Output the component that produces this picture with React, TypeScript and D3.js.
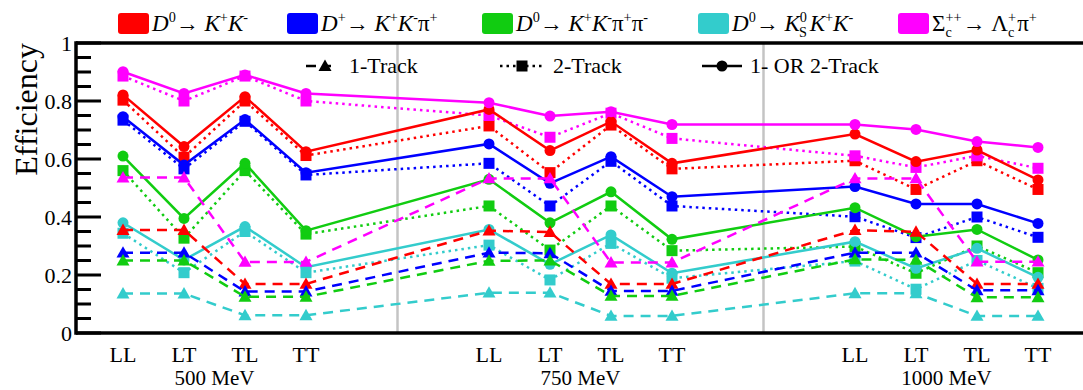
import React from "react";
import * as d3 from "d3";

const categories = ["LL", "LT", "TL", "TT"];
const energies = ["500 MeV", "750 MeV", "1000 MeV"];
const yTicks = [0, 0.2, 0.4, 0.6, 0.8, 1];

// values per point: 500 MeV (LL,LT,TL,TT), 750 MeV (...), 1000 MeV (...)
const redSolid = [0.821, 0.643, 0.815, 0.625, 0.771, 0.629, 0.729, 0.585, 0.686, 0.591, 0.631, 0.528];
const redDotted = [0.803, 0.606, 0.8, 0.612, 0.714, 0.553, 0.717, 0.566, 0.594, 0.495, 0.594, 0.495];
const redDashed = [0.355, 0.355, 0.169, 0.169, 0.353, 0.348, 0.169, 0.169, 0.355, 0.349, 0.169, 0.169];

const blueSolid = [0.746, 0.579, 0.736, 0.553, 0.652, 0.516, 0.608, 0.47, 0.505, 0.445, 0.445, 0.378];
const blueDotted = [0.734, 0.566, 0.73, 0.545, 0.585, 0.438, 0.592, 0.438, 0.401, 0.329, 0.4, 0.33];
const blueDashed = [0.277, 0.277, 0.143, 0.143, 0.277, 0.275, 0.145, 0.145, 0.277, 0.277, 0.147, 0.147];

const greenSolid = [0.61, 0.395, 0.585, 0.353, 0.53, 0.38, 0.487, 0.323, 0.432, 0.332, 0.357, 0.252];
const greenDotted = [0.56, 0.327, 0.56, 0.341, 0.438, 0.286, 0.438, 0.284, 0.298, 0.206, 0.3, 0.208];
const greenDashed = [0.25, 0.25, 0.125, 0.125, 0.249, 0.25, 0.128, 0.128, 0.254, 0.252, 0.123, 0.123];

const tealSolid = [0.38, 0.252, 0.367, 0.227, 0.357, 0.237, 0.338, 0.206, 0.315, 0.223, 0.292, 0.192];
const tealDotted = [0.344, 0.208, 0.35, 0.208, 0.303, 0.183, 0.309, 0.189, 0.248, 0.151, 0.25, 0.154];
const tealDashed = [0.136, 0.136, 0.061, 0.061, 0.139, 0.139, 0.059, 0.059, 0.137, 0.137, 0.059, 0.059];

const magentaSolid = [0.901, 0.826, 0.89, 0.826, 0.794, 0.748, 0.763, 0.719, 0.719, 0.702, 0.66, 0.64];
const magentaDotted = [0.886, 0.8, 0.886, 0.8, 0.75, 0.675, 0.758, 0.671, 0.611, 0.571, 0.611, 0.568];
const magentaDashed = [0.536, 0.536, 0.245, 0.245, 0.533, 0.533, 0.243, 0.243, 0.533, 0.533, 0.246, 0.246];

const RED = "#ff0000";
const BLUE = "#0000ff";
const GREEN = "#11cc11";
const TEAL = "#33cccc";
const MAGENTA = "#ff00ff";

type Kind = "solid" | "dotted" | "dashed";
const seriesList: { color: string; kind: Kind; values: number[] }[] = [
  { color: RED, kind: "dotted", values: redDotted },
  { color: BLUE, kind: "dotted", values: blueDotted },
  { color: GREEN, kind: "dotted", values: greenDotted },
  { color: TEAL, kind: "dotted", values: tealDotted },
  { color: MAGENTA, kind: "dotted", values: magentaDotted },
  { color: RED, kind: "solid", values: redSolid },
  { color: BLUE, kind: "solid", values: blueSolid },
  { color: GREEN, kind: "solid", values: greenSolid },
  { color: TEAL, kind: "solid", values: tealSolid },
  { color: MAGENTA, kind: "solid", values: magentaSolid },
  { color: RED, kind: "dashed", values: redDashed },
  { color: BLUE, kind: "dashed", values: blueDashed },
  { color: GREEN, kind: "dashed", values: greenDashed },
  { color: TEAL, kind: "dashed", values: tealDashed },
  { color: MAGENTA, kind: "dashed", values: magentaDashed },
];

const W = 1083;
const H = 390;
const FONT = "Liberation Serif, DejaVu Serif, serif";
const LEFT = 76;
const TOP = 43;
const BOTTOM = 333;

const slot = (i: number) => Math.floor(i / 4) * 6 + (i % 4);
const x = d3.scaleLinear().domain([0, 15]).range([123, 1038]);
const y = d3.scaleLinear().domain([0, 1]).range([BOTTOM, TOP]);

const dashFor = (k: Kind) => (k === "dashed" ? "10,7" : k === "dotted" ? "2.5,4" : undefined);

function Marker({ kind, cx, cy, color }: { kind: Kind; cx: number; cy: number; color: string }) {
  if (kind === "solid") return <circle cx={cx} cy={cy} r={5.5} fill={color} />;
  if (kind === "dotted") return <rect x={cx - 5.5} y={cy - 5.5} width={11} height={11} fill={color} />;
  const s = 6.5;
  return <path d={`M${cx},${cy - s}L${cx + s},${cy + s * 0.75}L${cx - s},${cy + s * 0.75}Z`} fill={color} />;
}

type Seg = [string, string, string?];
// kinds: i italic, r roman, sup, sub, ss (sup + sub stacked)
function Rich({ segs, x0, y0, fs }: { segs: Seg[]; x0: number; y0: number; fs: number }) {
  const out: React.ReactNode[] = [];
  let shift = 0;
  const small = fs * 0.62;
  segs.forEach((s, k) => {
    const [t, kind, t2] = s;
    if (kind === "i" || kind === "r") {
      out.push(
        <tspan key={k} dy={-shift} fontStyle={kind === "i" ? "italic" : "normal"} fontSize={fs}>
          {t}
        </tspan>
      );
      shift = 0;
    } else if (kind === "sup") {
      const target = -fs * 0.38;
      out.push(
        <tspan key={k} dy={target - shift} fontSize={small}>
          {t}
        </tspan>
      );
      shift = target;
    } else if (kind === "ss") {
      const up = -fs * 0.38;
      const dn = fs * 0.24;
      out.push(
        <tspan key={k + "a"} dy={up - shift} fontSize={small}>
          {t}
        </tspan>
      );
      const wSup = t.length * small * 0.56;
      const wSub = (t2 || "").length * small * 0.45;
      out.push(
        <tspan key={k + "b"} dx={-wSup} dy={dn - up} fontSize={small}>
          {t2}
        </tspan>
      );
      out.push(
        <tspan key={k + "c"} dx={Math.max(0, wSup - wSub)} fontSize={small}>
          {"\u200a"}
        </tspan>
      );
      shift = dn;
    }
  });
  return (
    <text x={x0} y={y0} style={{ fontFamily: FONT }} fontSize={fs} fill="#000">
      {out}
    </text>
  );
}

const legendEntries: { color: string; x: number; segs: Seg[] }[] = [
  { color: RED, x: 118, segs: [["D", "i"], ["0", "sup"], ["\u2192 ", "r"], ["K", "i"], ["+", "sup"], ["K", "i"], ["-", "sup"]] },
  { color: BLUE, x: 287, segs: [["D", "i"], ["+", "sup"], ["\u2192 ", "r"], ["K", "i"], ["+", "sup"], ["K", "i"], ["-", "sup"], ["\u03c0", "r"], ["+", "sup"]] },
  { color: GREEN, x: 482, segs: [["D", "i"], ["0", "sup"], ["\u2192 ", "r"], ["K", "i"], ["+", "sup"], ["K", "i"], ["-", "sup"], ["\u03c0", "r"], ["+", "sup"], ["\u03c0", "r"], ["-", "sup"]] },
  { color: TEAL, x: 698, segs: [["D", "i"], ["0", "sup"], ["\u2192 ", "r"], ["K", "i"], ["0", "ss", "S"], ["K", "i"], ["+", "sup"], ["K", "i"], ["-", "sup"]] },
  { color: MAGENTA, x: 898, segs: [["\u03a3", "r"], ["++", "ss", "c"], ["\u2192 ", "r"], ["\u039b", "r"], ["+", "ss", "c"], ["\u03c0", "r"], ["+", "sup"]] },
];

const typeLegend: { kind: Kind; x1: number; x2: number; mx: number; tx: number; label: string }[] = [
  { kind: "dashed", x1: 306, x2: 331, mx: 325, tx: 349, label: "1-Track" },
  { kind: "dotted", x1: 500, x2: 545, mx: 522, tx: 553, label: "2-Track" },
  { kind: "solid", x1: 702, x2: 742, mx: 722, tx: 750, label: "1- OR 2-Track" },
];

export default function App() {
  const minorTicks = d3.range(0, 1.0001, 0.05);
  const line = d3
    .line<number>()
    .x((_, i) => x(slot(i)))
    .y((v) => y(v));
  const txt = { fontFamily: FONT };

  return (
    <svg width={W} height={H} style={{ position: "absolute", left: 0, top: 0, background: "#fff", fontFamily: FONT }}>
      <rect x={0} y={0} width={W} height={H} fill="#fff" />
      {[4.5, 10.5].map((s) => (
        <line key={s} x1={x(s)} x2={x(s)} y1={TOP} y2={BOTTOM} stroke="#c4c4c4" strokeWidth={2.5} />
      ))}

      {typeLegend.map((t) => (
        <g key={t.label}>
          <line x1={t.x1} x2={t.x2} y1={66} y2={66} stroke="#000" strokeWidth={2.5} strokeDasharray={dashFor(t.kind)} />
          <Marker kind={t.kind} cx={t.mx} cy={66} color="#000" />
          <text x={t.tx} y={73} style={txt} fontSize={22} fill="#000">
            {t.label}
          </text>
        </g>
      ))}

      {seriesList.map((s, k) => (
        <g key={k}>
          <path
            d={line(s.values) || ""}
            fill="none"
            stroke={s.color}
            strokeWidth={2.5}
            strokeDasharray={dashFor(s.kind)}
          />
          {s.values.map((v, i) => (
            <Marker key={i} kind={s.kind} cx={x(slot(i))} cy={y(v)} color={s.color} />
          ))}
        </g>
      ))}

      <line x1={LEFT} x2={W + 10} y1={TOP} y2={TOP} stroke="#000" strokeWidth={3.5} />
      <line x1={LEFT} x2={W + 10} y1={BOTTOM} y2={BOTTOM} stroke="#000" strokeWidth={3.5} />
      <line x1={LEFT} x2={LEFT} y1={TOP - 1.75} y2={BOTTOM + 1.75} stroke="#000" strokeWidth={3.5} />
      {minorTicks.map((t, i) => (
        <line
          key={i}
          x1={LEFT}
          x2={LEFT + (i % 4 === 0 ? 25 : 15)}
          y1={y(t)}
          y2={y(t)}
          stroke="#000"
          strokeWidth={3}
        />
      ))}
      {yTicks.map((t) => (
        <text key={t} x={LEFT - 4} y={y(t)} dy="0.35em" textAnchor="end" style={txt} fontSize={22}>
          {d3.format("~g")(t)}
        </text>
      ))}
      <text transform={`translate(37,${TOP}) rotate(-90)`} textAnchor="end" style={txt} fontSize={32}>
        Efficiency
      </text>

      {energies.map((e, g) =>
        categories.map((c, j) => (
          <text key={e + c} x={x(g * 6 + j)} y={362} textAnchor="middle" style={txt} fontSize={22}>
            {c}
          </text>
        ))
      )}
      {energies.map((e, g) => (
        <text key={e} x={x(g * 6 + 1.5)} y={385} textAnchor="middle" style={txt} fontSize={21}>
          {e}
        </text>
      ))}

      {legendEntries.map((l, k) => (
        <g key={k}>
          <rect x={l.x} y={13} width={31} height={21} rx={3} fill={l.color} />
          <Rich segs={l.segs} x0={l.x + 34} y0={31} fs={23} />
        </g>
      ))}
    </svg>
  );
}
